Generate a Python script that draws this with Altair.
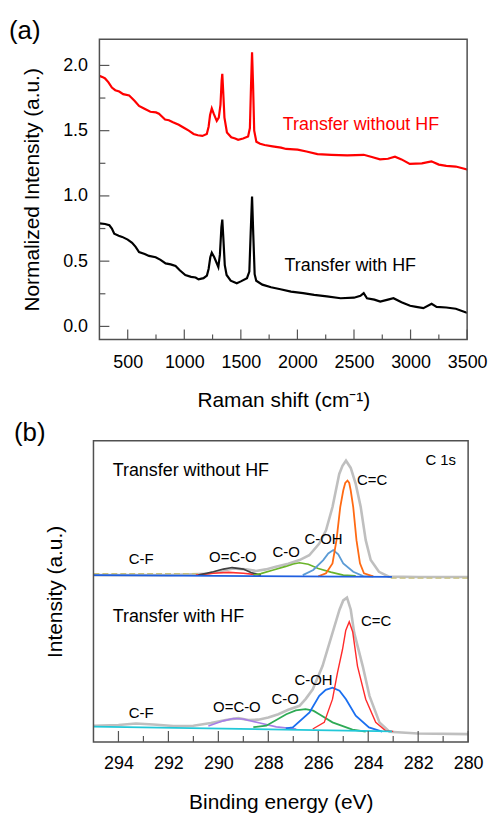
import altair as alt
import pandas as pd

FONT = "Liberation Sans"
TICK = "#555555"
FRAME = "#505050"

# ---------------- panel (a): Raman spectra ----------------
red_shift = [250, 280, 300, 330, 360, 390, 425, 460, 513, 560, 600, 644, 700, 750, 776, 800, 830, 864, 900,
             951, 1000, 1040, 1082, 1120, 1160, 1199, 1215, 1228, 1243, 1260, 1287, 1305, 1320, 1330, 1336,
             1344, 1355, 1377, 1415, 1450, 1476, 1520, 1564, 1580, 1590, 1599, 1608, 1618, 1637, 1670, 1710,
             1780, 1855, 1900, 2002, 2080, 2177, 2300, 2440, 2586, 2650, 2730, 2800, 2862, 2920, 2993, 3100,
             3184, 3250, 3316, 3400, 3491, 3500]
red_int = [1.92, 1.91, 1.90, 1.87, 1.83, 1.81, 1.80, 1.78, 1.77, 1.73, 1.69, 1.67, 1.645, 1.64, 1.63, 1.61,
           1.585, 1.58, 1.565, 1.545, 1.52, 1.50, 1.475, 1.465, 1.46, 1.474, 1.53, 1.62, 1.67, 1.63, 1.575,
           1.60, 1.70, 1.88, 1.936, 1.80, 1.60, 1.486, 1.45, 1.44, 1.43, 1.44, 1.455, 1.52, 1.85, 2.10, 1.85,
           1.50, 1.415, 1.40, 1.39, 1.38, 1.37, 1.36, 1.355, 1.34, 1.32, 1.315, 1.31, 1.315, 1.30, 1.28, 1.285,
           1.30, 1.28, 1.245, 1.25, 1.265, 1.24, 1.23, 1.225, 1.205, 1.20]

black_shift = [250, 300, 338, 360, 381, 420, 451, 500, 539, 570, 600, 650, 688, 747, 790, 835, 880, 923, 960,
               1009, 1060, 1100, 1126, 1170, 1200, 1215, 1230, 1243, 1265, 1301, 1315, 1328, 1336, 1345, 1358,
               1374, 1410, 1464, 1500, 1554, 1575, 1587, 1599, 1610, 1622, 1636, 1690, 1767, 1850, 1943, 2050,
               2148, 2260, 2382, 2500, 2557, 2586, 2615, 2680, 2732, 2800, 2849, 2920, 2996, 3050, 3113, 3186,
               3230, 3316, 3400, 3491, 3500]
black_int = [0.79, 0.785, 0.775, 0.75, 0.71, 0.695, 0.686, 0.665, 0.64, 0.61, 0.57, 0.555, 0.54, 0.53, 0.51,
             0.483, 0.475, 0.463, 0.43, 0.394, 0.38, 0.375, 0.36, 0.37, 0.39, 0.44, 0.53, 0.565, 0.53, 0.455,
             0.55, 0.76, 0.818, 0.68, 0.47, 0.394, 0.35, 0.33, 0.345, 0.37, 0.42, 0.72, 0.996, 0.70, 0.40, 0.35,
             0.32, 0.30, 0.285, 0.267, 0.255, 0.242, 0.23, 0.216, 0.22, 0.234, 0.255, 0.216, 0.205, 0.19, 0.205,
             0.216, 0.185, 0.158, 0.15, 0.14, 0.173, 0.15, 0.145, 0.135, 0.107, 0.105]

a_x_major = [500, 1000, 1500, 2000, 2500, 3000, 3500]
a_x_minor = [750, 1250, 1750, 2250, 2750, 3250]
a_y_major = [0.0, 0.5, 1.0, 1.5, 2.0]
a_y_minor = [0.25, 0.75, 1.25, 1.75]

a_label_text = ["Transfer without HF", "Transfer with HF"]
a_label_x = [1871, 1886]
a_label_y = [1.541, 0.466]
a_label_color = ["#ff0000", "#000000"]

# ---------------- panel (b): XPS C 1s ----------------
# top: transfer without HF
t_env_be = [295, 292, 290.5, 289.9, 289.4, 288.9, 288.5, 288.1, 287.7, 287.2, 286.75, 286.36, 285.96, 285.69,
            285.43, 285.16, 285.03, 284.89, 284.7, 284.5, 284.3, 284.1, 283.9, 283.57, 283.17, 282, 280]
t_env_i = [55.4, 55.4, 55.8, 56.8, 57.6, 57.3, 56.8, 57.3, 58.2, 59.2, 60.4, 62.0, 65.9, 70.3, 78.0, 89.0,
           91.7, 93.4, 91.0, 85.7, 78.0, 67.0, 60.4, 56.5, 54.9, 54.8, 54.8]
t_cc_be = [286.0, 285.69, 285.43, 285.27, 285.12, 285.0, 284.92, 284.83, 284.76, 284.7, 284.6, 284.47, 284.33,
           284.17, 283.8]
t_cc_i = [55.0, 56.0, 59.3, 67.0, 78.0, 83.5, 86.0, 86.8, 86.0, 83.5, 78.0, 67.0, 59.3, 56.0, 55.0]
t_coh_be = [286.62, 286.2, 285.8, 285.6, 285.4, 285.2, 285.0, 284.6, 284.2, 283.8]
t_coh_i = [55.4, 57.1, 60.4, 62.6, 63.7, 62.3, 59.3, 56.5, 55.1, 55.0]
t_co_be = [288.6, 288.3, 287.8, 287.3, 287.0, 286.75, 286.4, 286.0, 285.5, 285.0, 284.5]
t_co_i = [55.4, 55.9, 57.1, 58.3, 59.1, 59.5, 59.0, 57.6, 56.4, 55.4, 55.2]
t_oco_be = [290.8, 290.2, 289.8, 289.45, 289.0, 288.7, 288.3]
t_oco_i = [55.4, 56.5, 57.4, 57.9, 57.4, 56.3, 55.4]
t_small_be = [290.9, 290.2, 289.6, 289.0, 288.3]
t_small_i = [55.4, 56.0, 56.3, 56.0, 55.4]
t_base_be = [295, 283.05]
t_base_i = [55.4, 54.8]

# bottom: transfer with HF
b_env_be = [295, 294.0, 293.3, 292.6, 291.8, 291.0, 290.3, 289.7, 289.2, 288.8, 288.4, 288.0, 287.6, 287.2,
            286.75, 286.5, 286.22, 285.83, 285.43, 285.15, 285.0, 284.85, 284.7, 284.56, 284.22, 283.95,
            283.55, 283.15, 282, 280]
b_env_i = [5.4, 5.6, 6.1, 5.8, 5.3, 5.4, 6.3, 7.3, 7.9, 7.3, 7.4, 8.1, 9.2, 10.7, 12.0, 14.3, 17.5, 25.2, 36.2,
           43.9, 47.0, 47.9, 44.0, 36.2, 25.2, 15.3, 6.5, 3.4, 2.8, 2.6]
b_cc_be = [286.22, 285.76, 285.43, 285.23, 285.03, 284.9, 284.76, 284.62, 284.43, 284.10, 283.70, 283.30, 283.0]
b_cc_i = [4.3, 6.5, 14.2, 23.0, 30.7, 37.0, 39.9, 36.5, 25.2, 14.2, 6.5, 3.7, 3.5]
b_coh_be = [287.3, 287.02, 286.35, 285.96, 285.7, 285.43, 285.15, 284.89, 284.50, 283.97, 283.44]
b_coh_i = [4.5, 4.85, 9.8, 15.3, 17.3, 18.05, 17.0, 14.2, 8.7, 4.85, 3.4]
b_co_be = [288.6, 288.08, 287.28, 286.9, 286.51, 286.2, 285.96, 285.43, 284.63, 284.10]
b_co_i = [4.9, 5.4, 9.2, 10.5, 10.9, 10.4, 9.2, 6.5, 4.1, 3.4]
b_oco_be = [290.4, 289.8, 289.4, 289.02, 288.34, 287.68, 286.88]
b_oco_i = [5.3, 7.0, 7.8, 7.6, 6.3, 5.0, 4.3]
b_base_be = [295, 283.05]
b_base_i = [5.1, 3.5]

b_x_major = [280, 282, 284, 286, 288, 290, 292, 294]
b_x_minor = [281, 283, 285, 287, 289, 291, 293]

b_label_text = ["Transfer without HF", "Transfer with HF"]
b_label_x = [294.23, 294.23]
b_label_y = [90.1, 41.6]
comp_text = ["C 1s", "C=C", "C-OH", "C-O", "O=C-O", "C-F", "C=C", "C-OH", "C-O", "O=C-O", "C-F"]
comp_x = [281.71, 284.45, 286.55, 287.83, 290.37, 293.59, 284.29, 286.95, 287.87, 290.21, 293.59]
comp_y = [93.7, 87.0, 67.3, 63.0, 61.4, 60.7, 40.3, 20.5, 14.2, 11.6, 9.6]

W_A, H_A = 370, 302
B_LEFT, B_RIGHT, H_B = -6, 371, 303
LBL = 18
TTL = 21


def xticks(vals, length, h):
    return alt.Chart(pd.DataFrame({"x": vals})).mark_rule(color=TICK, strokeWidth=1.2).encode(
        x="x:Q", y=alt.value(h), y2=alt.value(h - length))


def yticks(vals, length):
    return alt.Chart(pd.DataFrame({"y": vals})).mark_rule(color=TICK, strokeWidth=1.2).encode(
        y="y:Q", x=alt.value(0), x2=alt.value(length))


def panel_label(txt, dx):
    return alt.Chart(pd.DataFrame({"t": [txt]})).mark_text(
        fontSize=26, font=FONT, align="left", baseline="middle", color="#000").encode(
        x=alt.value(dx), y=alt.value(-8), text="t:N")


# ----- panel a -----
raman_df = pd.concat([
    pd.DataFrame({"x": red_shift, "y": red_int, "s": "without"}),
    pd.DataFrame({"x": black_shift, "y": black_int, "s": "with"}),
])

xa = alt.X("x:Q", scale=alt.Scale(domain=[250, 3500], nice=False, zero=False),
           axis=alt.Axis(values=a_x_major, format="d", ticks=False, domain=False, grid=False,
                         labelFontSize=LBL, labelPadding=14, labelFlush=False, labelOverlap=False,
                         labelColor="#000", title="Raman shift (cm⁻¹)", titleFontSize=TTL,
                         titleFontWeight="normal", titlePadding=18, titleColor="#000"))
ya = alt.Y("y:Q", scale=alt.Scale(domain=[-0.1, 2.2], nice=False, zero=False),
           axis=alt.Axis(values=a_y_major, format=".1f", ticks=False, domain=False, grid=False,
                         labelFontSize=LBL, labelPadding=12, labelColor="#000",
                         title="Normalized Intensity (a.u.)", titleFontSize=TTL, titleFontWeight="normal",
                         titlePadding=20, titleColor="#000"))

a_lines = alt.Chart(raman_df).mark_line(strokeWidth=2.2).encode(
    x=xa, y=ya, detail="s:N",
    color=alt.Color("s:N", scale=alt.Scale(domain=["without", "with"], range=["#ff0000", "#000000"]),
                    legend=None))

a_text = alt.Chart(pd.DataFrame({"x": a_label_x, "y": a_label_y, "t": a_label_text, "c": a_label_color})).mark_text(
    fontSize=18, font=FONT, align="left", baseline="middle").encode(
    x="x:Q", y="y:Q", text="t:N", color=alt.Color("c:N", scale=None))

a_frame = alt.Chart(pd.DataFrame({"f": [0]})).mark_rect(
    fill="transparent", stroke=FRAME, strokeWidth=1.5).encode(
    x=alt.value(0), x2=alt.value(W_A), y=alt.value(0), y2=alt.value(H_A))

panel_a = alt.layer(
    a_lines,
    xticks(a_x_major, 10, H_A), xticks(a_x_minor, 5, H_A),
    yticks(a_y_major, 10), yticks(a_y_minor, 6),
    a_text, a_frame, panel_label("(a)", -91),
).properties(width=W_A, height=H_A, view=alt.ViewBackground(stroke="transparent"))

# ----- panel b -----
xb = alt.X("x:Q", scale=alt.Scale(domain=[280, 295], reverse=True, nice=False, zero=False,
                                  range=[B_LEFT, B_RIGHT]),
           axis=alt.Axis(values=b_x_major, ticks=False, domain=False, grid=False, labelFontSize=LBL,
                         labelPadding=13, labelFlush=False, labelOverlap=False, labelColor="#000",
                         title="Binding energy (eV)", titleFontSize=TTL, titleFontWeight="normal",
                         titlePadding=19, titleColor="#000"))
yb = alt.Y("y:Q", scale=alt.Scale(domain=[0, 100], nice=False, zero=False),
           axis=alt.Axis(labels=False, ticks=False, domain=False, grid=False,
                         title="Intensity (a.u.)", titleFontSize=TTL, titleFontWeight="normal",
                         titlePadding=34, titleColor="#000"))


def curve(be, inten, color, width, first=False, dash=None):
    df = pd.DataFrame({"x": be, "y": inten})
    kw = dict(color=color, strokeWidth=width)
    if dash:
        kw["strokeDash"] = dash
    m = alt.Chart(df).mark_line(**kw)
    if first:
        return m.encode(x=xb, y=yb)
    return m.encode(x="x:Q", y="y:Q")


b_layers = [
    curve(t_env_be, t_env_i, "#bfbfbf", 2.6, first=True),
    curve([295, 290.8], [55.9, 55.9], "#c8c07a", 1.2, dash=[6, 3]),
    curve([283.1, 280], [54.4, 54.4], "#c8c07a", 1.2, dash=[6, 3]),
    curve(t_small_be, t_small_i, "#ff3030", 1.6),
    curve(t_oco_be, t_oco_i, "#404040", 1.6),
    curve(t_co_be, t_co_i, "#6ab42a", 1.6),
    curve(t_coh_be, t_coh_i, "#5b9bd5", 1.8),
    curve(t_cc_be, t_cc_i, "#ff6a13", 1.8),
    curve(t_base_be, t_base_i, "#1f5fe0", 1.8),
    curve(b_env_be, b_env_i, "#bfbfbf", 2.6),
    curve(b_oco_be, b_oco_i, "#a67ee6", 1.6),
    curve(b_co_be, b_co_i, "#2eaa55", 1.8),
    curve(b_coh_be, b_coh_i, "#1a6ff0", 1.8),
    curve(b_cc_be, b_cc_i, "#ff2a2a", 1.4),
    curve(b_base_be, b_base_i, "#22c8d8", 1.8),
]

b_title_text = alt.Chart(pd.DataFrame({"x": b_label_x, "y": b_label_y, "t": b_label_text})).mark_text(
    fontSize=18, font=FONT, align="left", baseline="middle", color="#000").encode(
    x="x:Q", y="y:Q", text="t:N")
b_comp_text = alt.Chart(pd.DataFrame({"x": comp_x, "y": comp_y, "t": comp_text})).mark_text(
    fontSize=15, font=FONT, align="left", baseline="middle", color="#000").encode(
    x="x:Q", y="y:Q", text="t:N")

b_frame = alt.Chart(pd.DataFrame({"f": [0]})).mark_rect(
    fill="transparent", stroke=FRAME, strokeWidth=1.5).encode(
    x=alt.value(B_LEFT), x2=alt.value(B_RIGHT), y=alt.value(0), y2=alt.value(H_B))

panel_b = alt.layer(
    *b_layers,
    xticks(b_x_major, 11, H_B), xticks(b_x_minor, 6, H_B),
    b_title_text, b_comp_text, b_frame, panel_label("(b)", -86),
).properties(width=B_RIGHT, height=H_B, view=alt.ViewBackground(stroke="transparent"))

chart = alt.concat(panel_a, panel_b, columns=1, spacing=8).properties(
    padding={"left": 0, "top": 7, "right": 0, "bottom": 0}
).configure(font=FONT)

chart.save("out.html", embed_options={"renderer": "svg", "actions": False})
